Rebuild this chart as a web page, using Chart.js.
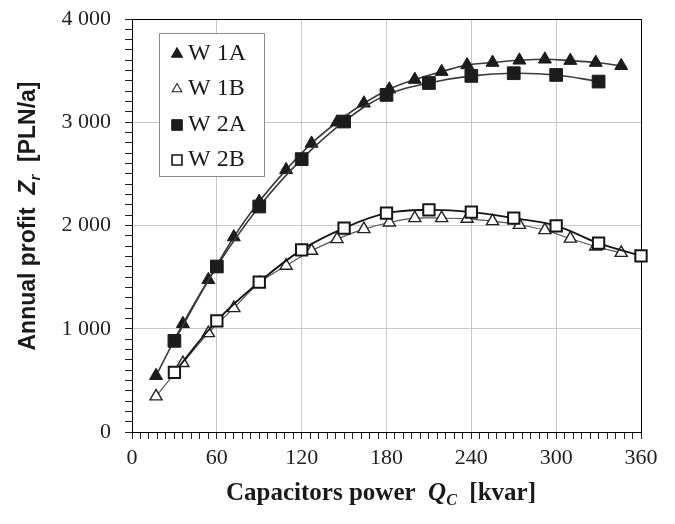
<!DOCTYPE html>
<html><head><meta charset="utf-8">
<script src="https://cdn.jsdelivr.net/npm/chart.js@4/dist/chart.umd.min.js"></script>
<style>html,body{margin:0;padding:0;background:#fff;}#wrap{width:675px;height:524px;}</style>
</head><body><div id="wrap"><canvas id="c" width="675" height="524"></canvas></div>
<script>
// ---- data ----
const seriesNames = ['W 1A', 'W 1B', 'W 2A', 'W 2B'];
const qW1 = [17, 36, 54, 72, 90, 109, 127, 145, 164, 182, 200, 219, 237, 255, 274, 292, 310, 328, 346];
const zW1A = [545, 1048, 1474, 1888, 2232, 2539, 2795, 3000, 3184, 3320, 3413, 3490, 3555, 3578, 3600, 3610, 3597, 3578, 3547];
const zW1B = [345, 668, 958, 1200, 1442, 1610, 1755, 1868, 1965, 2029, 2071, 2071, 2065, 2042, 2006, 1955, 1873, 1797, 1735];
const qW2 = [30, 60, 90, 120, 150, 180, 210, 240, 270, 300, 330, 360];
const zW2A = [883, 1603, 2184, 2643, 3007, 3265, 3380, 3449, 3475, 3458, 3394];
const zW2B = [577, 1077, 1452, 1764, 1974, 2119, 2151, 2130, 2071, 1997, 1829, 1706];
const xMajorTicks = [0, 60, 120, 180, 240, 300, 360];
const yMajorTicks = [0, 1000, 2000, 3000, 4000];
const xTitle = ['Capacitors power  ', 'Q', 'C', '  [kvar]'];
const yTitle = ['Annual profit  ', 'Z', 'r', '  [PLN/a]'];

const pts = (xs, ys) => ys.map((y, i) => ({x: xs[i], y}));
const fmtY = v => v === 0 ? '0' : (v / 1000) + ' 000';

const styles = [
  {pointStyle: 'triangle', radius: 7.5, fill: '#1c1c1c', stroke: '#1c1c1c', pbw: 1, line: '#3a3a3a', lw: 1.6},
  {pointStyle: 'triangle', radius: 7, fill: '#ffffff', stroke: '#222', pbw: 1.4, line: '#555', lw: 1.2},
  {pointStyle: 'rect', radius: 9, fill: '#1c1c1c', stroke: '#1c1c1c', pbw: 1, line: '#3a3a3a', lw: 1.6},
  {pointStyle: 'rect', radius: 8, fill: '#ffffff', stroke: '#151515', pbw: 2, line: '#151515', lw: 1.8}
];
const dataSets = [pts(qW1, zW1A), pts(qW1, zW1B), pts(qW2, zW2A), pts(qW2, zW2B)];

const datasets = dataSets.map((d, i) => ({
  label: seriesNames[i], data: d, showLine: true, tension: 0.4, clip: false,
  borderColor: styles[i].line, borderWidth: styles[i].lw,
  pointStyle: styles[i].pointStyle, pointRadius: styles[i].radius, pointHoverRadius: styles[i].radius,
  pointBackgroundColor: styles[i].fill, pointBorderColor: styles[i].stroke, pointBorderWidth: styles[i].pbw,
  order: 4 - i
}));

const framePlugin = {
  id: 'frame',
  beforeDatasetsDraw(chart) {
    const {ctx, chartArea: a} = chart;
    ctx.save(); ctx.strokeStyle = '#000'; ctx.lineWidth = 1;
    ctx.strokeRect(Math.round(a.left) + 0.5, Math.round(a.top) + 0.5, Math.round(a.right - a.left), Math.round(a.bottom - a.top));
    ctx.restore();
  }
};

function drawRich(ctx, parts, size, family, weight, x, y, rotate) {
  const fN = `${weight} ${size}px ${family}`;
  const fI = `italic ${weight} ${size}px ${family}`;
  const fS = `italic ${weight} ${Math.round(size * 0.65)}px ${family}`;
  const widths = [];
  ctx.font = fN; widths.push(ctx.measureText(parts[0]).width);
  ctx.font = fI; widths.push(ctx.measureText(parts[1]).width);
  ctx.font = fS; widths.push(ctx.measureText(parts[2]).width);
  ctx.font = fN; widths.push(ctx.measureText(parts[3]).width);
  const total = widths.reduce((a, b) => a + b, 0);
  ctx.save();
  ctx.translate(x, y);
  if (rotate) ctx.rotate(-Math.PI / 2);
  ctx.fillStyle = '#1a1a1a';
  ctx.textBaseline = 'alphabetic';
  let cx = -total / 2;
  const base = size * 0.35;
  ctx.font = fN; ctx.fillText(parts[0], cx, base); cx += widths[0];
  ctx.font = fI; ctx.fillText(parts[1], cx, base); cx += widths[1];
  ctx.font = fS; ctx.fillText(parts[2], cx, base + size * 0.22); cx += widths[2];
  ctx.font = fN; ctx.fillText(parts[3], cx, base);
  ctx.restore();
}

const titlePlugin = {
  id: 'titles',
  afterDraw(chart) {
    const ctx = chart.ctx;
    drawRich(ctx, xTitle, 25, '"Liberation Serif"', 'bold', 381, 491, false);
    drawRich(ctx, yTitle, 23, '"Liberation Sans"', 'bold', 27, 216, true);
  }
};

function marker(ctx, style, x, y, r, fill, stroke, lw) {
  ctx.save();
  ctx.beginPath();
  if (style === 'triangle') {
    for (let k = 0; k < 3; k++) {
      const ang = k * 2 * Math.PI / 3;
      const px = x + Math.sin(ang) * r, py = y - Math.cos(ang) * r;
      k === 0 ? ctx.moveTo(px, py) : ctx.lineTo(px, py);
    }
    ctx.closePath();
  } else {
    const s = r * Math.SQRT1_2;
    ctx.rect(x - s, y - s, 2 * s, 2 * s);
  }
  ctx.fillStyle = fill; ctx.fill();
  ctx.strokeStyle = stroke; ctx.lineWidth = lw; ctx.stroke();
  ctx.restore();
}

const legendPlugin = {
  id: 'boxLegend',
  afterDraw(chart) {
    const ctx = chart.ctx;
    ctx.save();
    ctx.fillStyle = '#fff';
    ctx.fillRect(159, 33, 105, 143);
    ctx.strokeStyle = '#8a8a8a'; ctx.lineWidth = 1;
    ctx.strokeRect(159.5, 33.5, 105, 143);
    const rows = [53, 88, 124, 159];
    const lr = [6.5, 5.5, 7.5, 7];
    chart.data.datasets.forEach((ds, i) => {
      const st = styles[i];
      marker(ctx, st.pointStyle, 177, rows[i] + 1, lr[i], st.fill, st.stroke, i === 3 ? 1.6 : (i === 1 ? 1.1 : 1));
      ctx.fillStyle = '#1a1a1a';
      ctx.font = '24px "Liberation Serif"';
      ctx.textBaseline = 'middle';
      ctx.fillText(ds.label, 188, rows[i] + 1);
    });
    ctx.restore();
  }
};

new Chart(document.getElementById('c'), {
  type: 'scatter',
  data: {datasets},
  options: {
    responsive: false, animation: false, devicePixelRatio: 1,
    layout: {padding: {left: 0, right: 34, top: 19, bottom: 0}},
    plugins: {legend: {display: false}, tooltip: {enabled: false}},
    scales: {
      x: {
        type: 'linear', min: 0, max: 360,
        afterFit(s) { s.height = 92; s.paddingLeft = 0; s.paddingRight = 0; },
        ticks: {
          stepSize: 6, autoSkip: false, maxRotation: 0, padding: 6,
          font: {family: '"Liberation Serif"', size: 22}, color: '#222',
          callback: v => xMajorTicks.includes(v) ? String(v) : ''
        },
        grid: {
          color: c => (c.tick && xMajorTicks.includes(c.tick.value) ? '#c8c8c8' : 'rgba(0,0,0,0)'),
          tickColor: '#222', tickLength: 7, lineWidth: 1
        },
        border: {color: '#000', width: 1}
      },
      y: {
        type: 'linear', min: 0, max: 4000,
        afterFit(s) { s.width = 132; s.paddingTop = 0; s.paddingBottom = 0; },
        ticks: {
          stepSize: 100, autoSkip: false, padding: 14,
          font: {family: '"Liberation Serif"', size: 22}, color: '#222',
          callback: v => yMajorTicks.includes(v) ? fmtY(v) : ''
        },
        grid: {
          color: c => (c.tick && yMajorTicks.includes(c.tick.value) ? '#c8c8c8' : 'rgba(0,0,0,0)'),
          tickColor: '#222', tickLength: 7, lineWidth: 1
        },
        border: {color: '#000', width: 1}
      }
    }
  },
  plugins: [framePlugin, titlePlugin, legendPlugin]
});
</script></body></html>
